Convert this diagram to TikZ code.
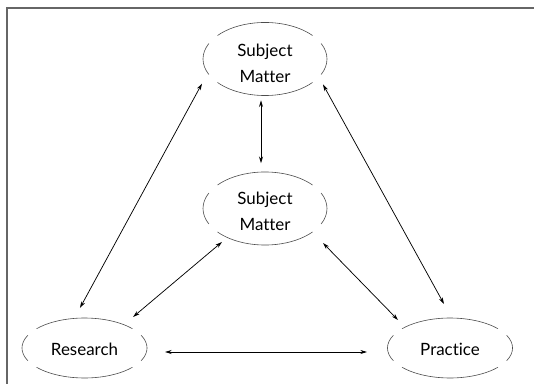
\documentclass[tikz,border=0pt]{standalone}
\usepackage{fontspec}
\setmainfont{Lato}[Ligatures={NoCommon,NoRare}]
\usetikzlibrary{arrows.meta,calc}
\tikzset{
  lbl/.style={align=center,inner sep=0pt,font=\fontsize{12.7pt}{19.5pt}\selectfont},
  ell/.style={draw=black!70,line width=0.45pt},
  conn/.style={line width=0.55pt,{Stealth[length=5pt,width=3pt]}-{Stealth[length=5pt,width=3pt]}},
  frame/.style={draw=black!60,line width=0.9pt}
}
\newcommand\brokenell[3]{%
  \draw[ell] ([shift={(40:#2 and #3)}]#1) arc[start angle=40,end angle=140,x radius=#2,y radius=#3];
  \draw[ell] ([shift={(220:#2 and #3)}]#1) arc[start angle=220,end angle=320,x radius=#2,y radius=#3];
  \draw[ell] ([shift={(155:#2 and #3)}]#1) arc[start angle=155,end angle=205,x radius=#2,y radius=#3];
  \draw[ell] ([shift={(-25:#2 and #3)}]#1) arc[start angle=-25,end angle=25,x radius=#2,y radius=#3];
}
\begin{document}
\begin{tikzpicture}[x=0.75pt,y=-0.75pt]
\useasboundingbox (0,0) rectangle (534,384);
% frame (top and left only)
\coordinate (fa) at (7,384);
\coordinate (fb) at (7,8);
\coordinate (fc) at (534,8);
\draw[frame] (fa) -- (fb) -- (fc);
% ellipse centres
\coordinate (T) at (265,59);
\coordinate (M) at (265,208.5);
\coordinate (R) at (84.5,348);
\coordinate (P) at (450,348);
\brokenell{T}{46.5pt}{27.4pt}
\brokenell{M}{46.5pt}{27.4pt}
\brokenell{R}{46.9pt}{22.5pt}
\brokenell{P}{46.9pt}{22.5pt}
% labels
\node[lbl] (Tt) at ([yshift=-3pt]T) {Subject\\Matter};
\node[lbl] (Mt) at ([yshift=-2pt]M) {Subject\\Matter};
\node[lbl] (Rt) at ([yshift=-1pt]R) {Research};
\node[lbl] (Pt) at ([yshift=-1pt]P) {Practice};
% connectors
\draw[conn] ([shift={(-3pt,-31pt)}]T) -- ([shift={(-3pt,34pt)}]M);
\draw[conn] ([shift={(-47.25pt,-18.4pt)}]T) -- ([shift={(-3.4pt,30pt)}]R);
\draw[conn] ([shift={(43.5pt,-19.1pt)}]T) -- ([shift={(-4.5pt,33pt)}]P);
\draw[conn] ([shift={(-32.25pt,-25.1pt)}]M) -- ([shift={(36.4pt,23.25pt)}]R);
\draw[conn] ([shift={(43.5pt,-25.9pt)}]M) -- ([shift={(-39pt,21pt)}]P);
\draw[conn] ([shift={(60.4pt,-3pt)}]R) -- ([shift={(-62.25pt,-3pt)}]P);
\end{tikzpicture}
\end{document}
